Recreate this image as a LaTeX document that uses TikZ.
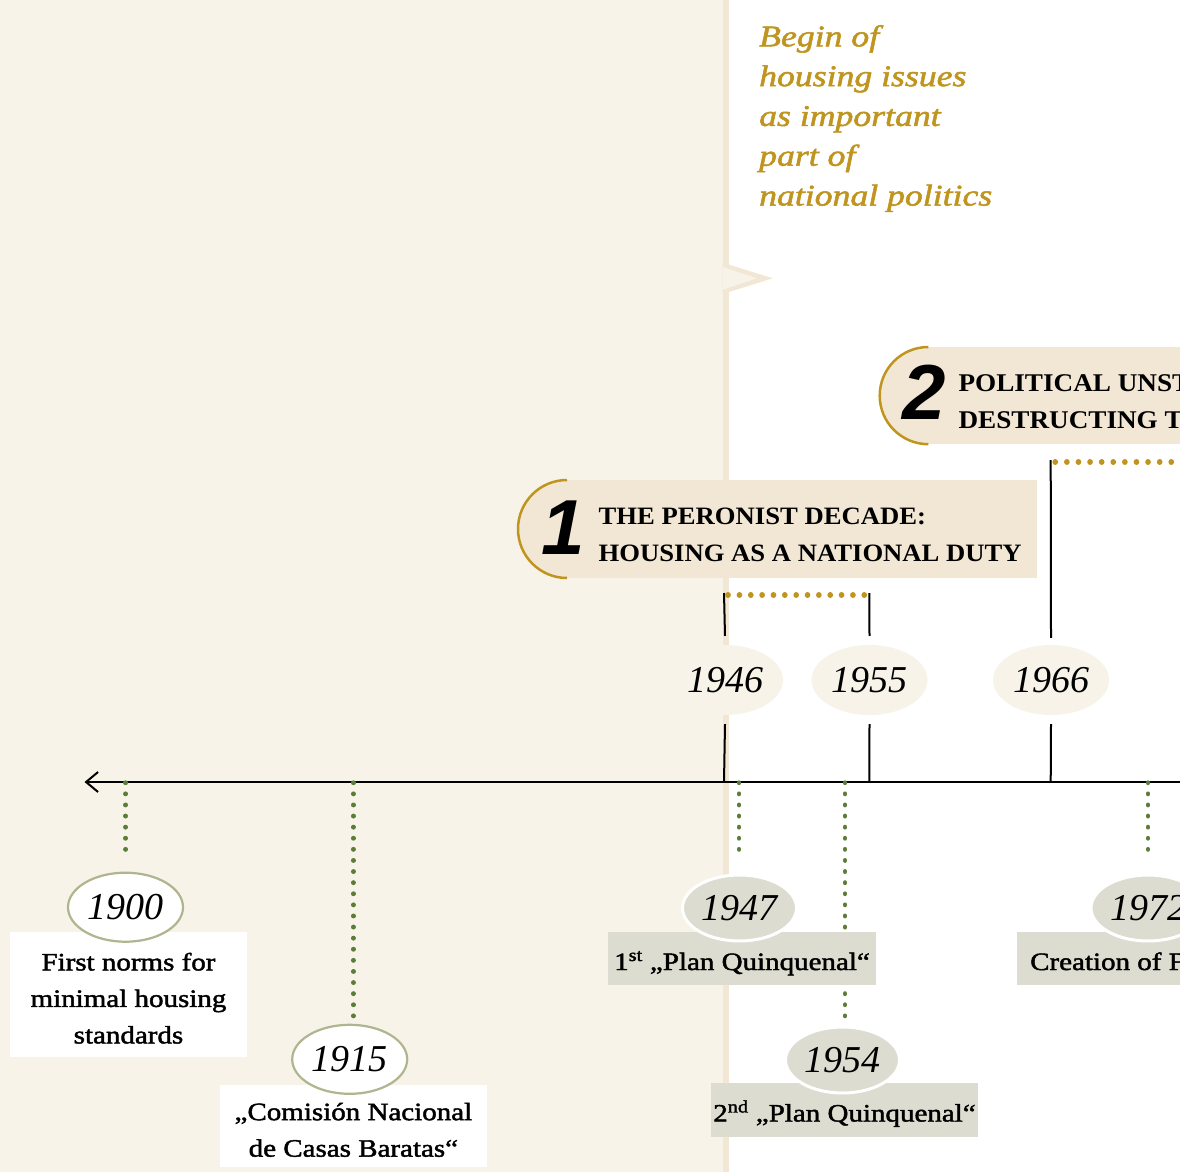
\documentclass[tikz,border=0pt]{standalone}
\usepackage{fontspec}
\setmainfont{Liberation Serif}
\newfontfamily\headfont{Liberation Serif}[FakeStretch=1.066]
\newfontfamily\labelfont{Liberation Serif}[FakeStretch=1.16,FakeBold=1.8]
\newfontfamily\notefont{Liberation Serif}[FakeStretch=1.19,FakeBold=1.8]
\newfontfamily\yearfont{Liberation Serif}
\newfontfamily\numfont{Liberation Sans}
\usetikzlibrary{shapes.geometric,arrows.meta}

\definecolor{cream}{HTML}{F7F3E9}
\definecolor{band}{HTML}{F2E7D4}
\definecolor{badgefill}{HTML}{F2E7D5}
\definecolor{gold}{HTML}{C0951F}
\definecolor{leaf}{HTML}{5B7D38}
\definecolor{sage}{HTML}{DCDDD0}
\definecolor{sageline}{HTML}{B0B58F}
\colorlet{ovalcream}{cream}

\tikzset{
  axisline/.style={line width=2pt, draw=black},
  tickline/.style={line width=2pt, draw=black},
  golddots/.style={draw=gold, line width=5.6pt, line cap=round, dash pattern=on 0.1pt off 11.25pt},
  greendots/.style={draw=leaf, line width=4.8pt, line cap=round, dash pattern=on 0.1pt off 11pt},
  topyear/.style={ellipse, fill=ovalcream, minimum width=116pt, minimum height=70pt, inner sep=0pt,
    font=\yearfont\itshape\fontsize{38}{38}\selectfont},
  lightyear/.style={topyear, fill=white, draw=sageline, line width=2.2pt, minimum width=115pt, minimum height=69pt},
  sageyear/.style={topyear, fill=sage, draw=white, line width=3pt, minimum width=114pt, minimum height=66pt},
  whitebox/.style={rectangle, fill=white, inner sep=0pt, align=center,
    font=\labelfont\fontsize{25}{36.5}\selectfont},
  sagebox/.style={whitebox, fill=sage, text height=25pt, text depth=2pt},
  badgetext/.style={anchor=north west, inner sep=0pt, align=left,
    font=\headfont\bfseries\fontsize{25}{37}\selectfont},
  badgenum/.style={inner sep=0pt, font=\numfont\bfseries\itshape\fontsize{78}{78}\selectfont},
  goldarc/.style={draw=gold, line width=2.5pt},
  notetext/.style={anchor=north west, inner sep=0pt, align=left, text=gold,
    font=\notefont\itshape\fontsize{30}{39.8}\selectfont},
}
% tall invisible rule that lowers the first line of a label
\newcommand{\labeltop}{\rule{0pt}{25pt}}

\begin{document}
\begin{tikzpicture}[x=1pt,y=-1pt]
\useasboundingbox (0,0) rectangle (1180,1172);
\clip (0,0) rectangle (1180,1172);

% page halves and the dividing band with its pointer
\fill[white] (0,0) rectangle (1180,1172);
\fill[cream] (0,0) rectangle (722.7,1172);
\fill[band] (722.7,0) rectangle (729.3,1172);
\fill[band] (722.7,262.7) -- (772.7,278.3) -- (722.7,293.9) -- cycle;
\fill[cream] (722.7,266.9) -- (756.7,278.3) -- (722.7,289.7) -- cycle;

% note beside the pointer
\node[notetext] (note) at (759,25) {Begin of\\housing issues\\as important\\part of\\national politics};

% period badge 2
\fill[badgefill] (928.3,347) rectangle (1185,444.3);
\fill[badgefill] (928.3,395.6) circle[radius=48.6];
\draw[goldarc] (928.3,347) arc[start angle=270,end angle=90,radius=48.6];
\node[badgenum] (num2) at (924,392.5) {2};
\node[badgetext, font=\headfont\bfseries\fontsize{25.5}{37}\selectfont] (head2) at (958.3,374.5)
  {POLITICAL UNSTABILITY\\DESTRUCTING THE STATE};

% period badge 1
\fill[badgefill] (567,480) rectangle (1037,578);
\fill[badgefill] (567,529) circle[radius=49];
\draw[goldarc] (567,480) arc[start angle=270,end angle=90,radius=49];
\node[badgenum] (num1) at (563.5,527.5) {1};
\node[badgetext] (head1) at (598.5,507.5) {THE PERONIST DECADE:\\HOUSING AS A NATIONAL DUTY};

% timeline and its anchor points
\coordinate (tEnd) at (1190,782);
\coordinate (tStart) at (84.5,782);
\coordinate (t1900) at (125.7,782.7);
\coordinate (t1915) at (353.3,782.7);
\coordinate (t1946) at (724,782);
\coordinate (t1947) at (739,782.7);
\coordinate (t1954) at (845,782.7);
\coordinate (t1955) at (869.3,782);
\coordinate (t1966) at (1050.7,782);
\coordinate (t1972) at (1148,782.7);

% lower ends of the event leaders
\coordinate (d1900) at (125.7,860);
\coordinate (d1915) at (353.3,1019);
\coordinate (d1947) at (739,860);
\coordinate (d1954) at (845,1019);
\coordinate (d1972) at (1148,860);

% period years above the line
\node[topyear] (y1946) at (725,680) {1946};
\node[topyear] (y1955) at (869.5,680) {1955};
\node[topyear] (y1966) at (1051,680) {1966};

% period brackets
\coordinate (p1a) at (724,593);
\coordinate (p1b) at (869.3,593);
\coordinate (p2a) at (1050.7,460);
\draw[tickline] (t1946) -- ([yshift=-9pt]y1946.south);
\draw[tickline] (t1955) -- ([yshift=-9pt]y1955.south);
\draw[tickline] (t1966) -- ([yshift=-9pt]y1966.south);
\draw[tickline] ([yshift=9pt]y1946.north) -- (p1a);
\draw[tickline] ([yshift=9pt]y1955.north) -- (p1b);
\draw[tickline] ([yshift=7pt]y1966.north) -- (p2a);
\draw[golddots] ([xshift=4pt,yshift=-2pt]p1a) -- ([xshift=-4.5pt,yshift=-2pt]p1b);
\draw[golddots, dash pattern=on 0.1pt off 11.5pt] ([xshift=4.5pt,yshift=-2pt]p2a) -- ++(160,0) coordinate (p2b);

\draw[axisline, -{Straight Barb[length=12pt,width=20pt]}] (tEnd) -- (tStart);

% event labels below the line
\node[whitebox, minimum width=237pt, minimum height=125pt] (b1900) at (128.5,994.5)
  {\labeltop First norms for\\minimal housing\\standards};
\node[whitebox, minimum width=267pt, minimum height=82pt] (b1915) at (353.4,1126)
  {\labeltop„Comisión Nacional\\de Casas Baratas“};

\draw[greendots] (t1900) -- (d1900);
\draw[greendots] (t1915) -- (d1915);
\draw[greendots] (t1947) -- (d1947);
\draw[greendots] (t1954) -- (d1954);
\draw[greendots] (t1972) -- (d1972);

\node[sagebox, minimum width=268pt, minimum height=53pt] (b1947) at (742,958.5)
  {1\textsuperscript{st} „Plan Quinquenal“};
\node[sagebox, minimum width=267pt, minimum height=54pt] (b1954) at (844.5,1110)
  {2\textsuperscript{nd} „Plan Quinquenal“};
\node[sagebox, anchor=west, inner xsep=13pt, minimum height=53pt] (b1972) at (1017,958.5)
  {Creation of FONAVI};

\node[lightyear] (e1900) at (125.5,907.2) {1900};
\node[lightyear] (e1915) at (349.7,1059.3) {1915};
\node[sageyear] (e1947) at (739.5,908) {1947};
\node[sageyear] (e1954) at (842.5,1060) {1954};
\node[sageyear] (e1972) at (1148,908) {1972};
\end{tikzpicture}
\end{document}
